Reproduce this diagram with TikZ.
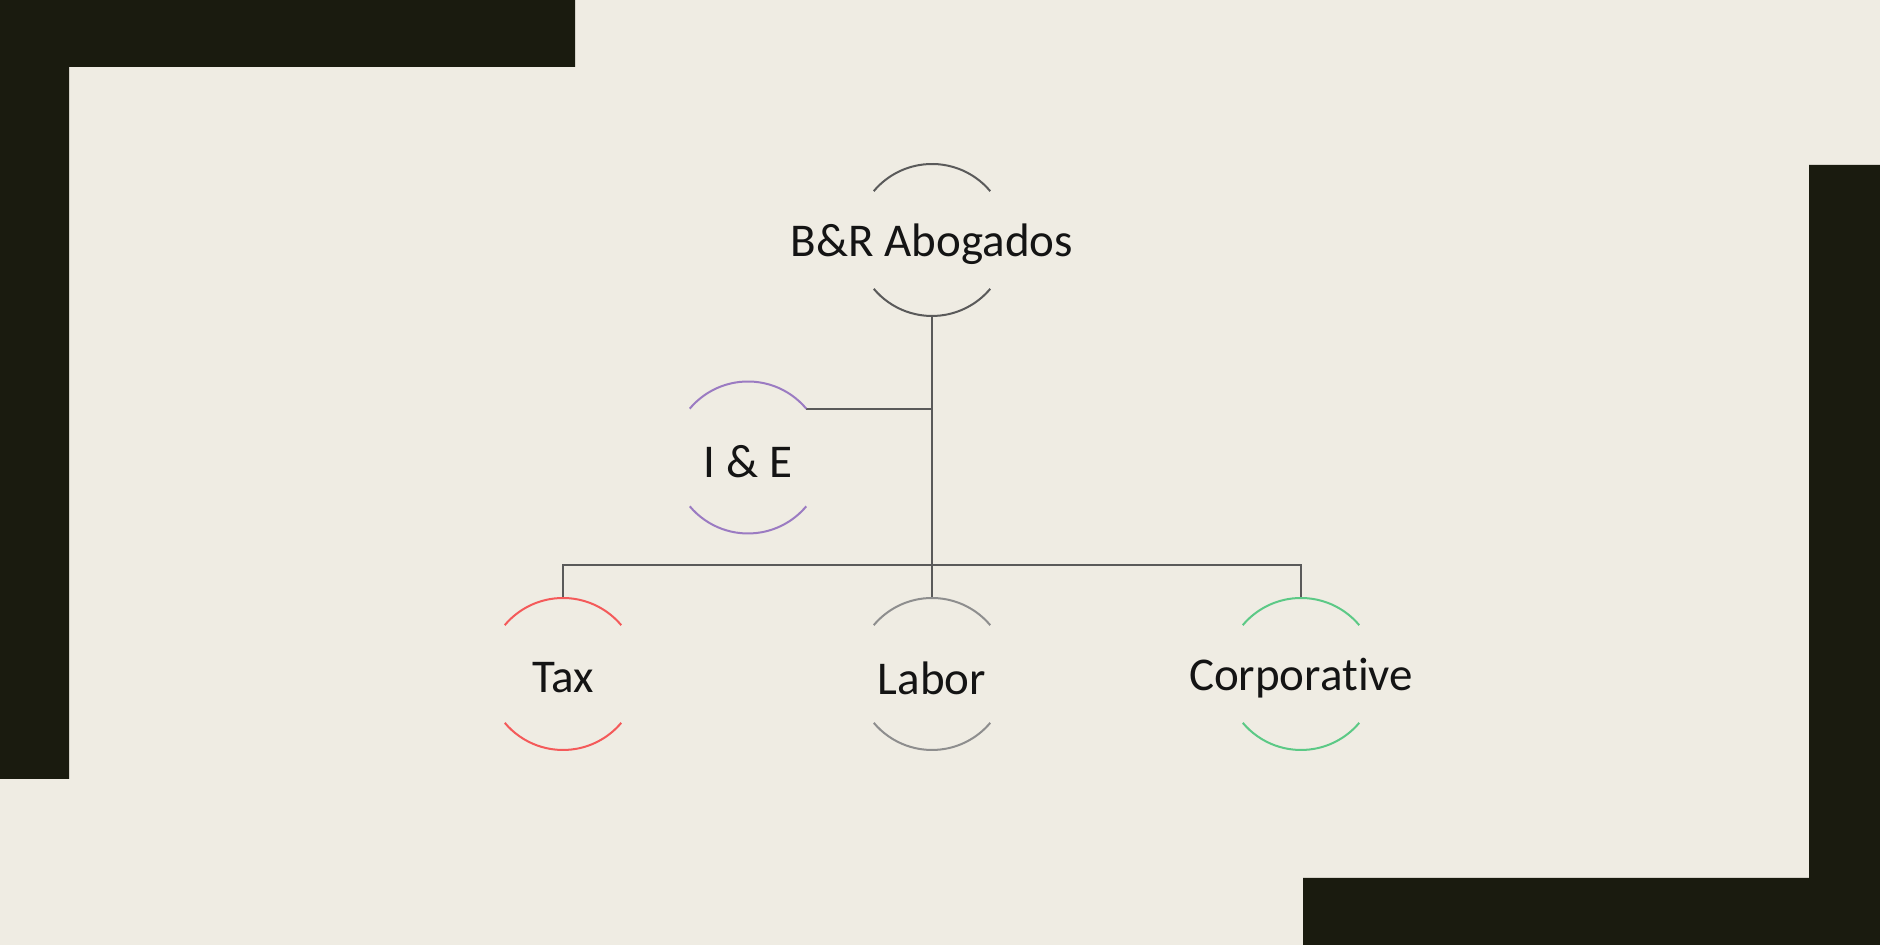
\documentclass[tikz,border=0pt]{standalone}
\usepackage{fontspec}
\setmainfont{Carlito}[Ligatures=CommonOff]
\definecolor{paper}{HTML}{EFECE3}
\definecolor{ink}{HTML}{1A1B0F}
\definecolor{linkgray}{HTML}{5A5A5A}
\definecolor{firmcol}{HTML}{5A5A5A}
\definecolor{iecol}{HTML}{9B7BC2}
\definecolor{taxcol}{HTML}{F45A5A}
\definecolor{laborcol}{HTML}{8E8E8E}
\definecolor{corpcol}{HTML}{5CC986}

\begin{document}
\begin{tikzpicture}[x=0.5pt,y=0.5pt,
  unit/.style={circle,minimum size=76pt,inner sep=0pt,outer sep=0pt,
    label={[font=\fontsize{23.5}{28}\selectfont,text=black!92,
      yshift=-2pt]center:#1}},
  link/.style={draw=linkgray,line width=0.9pt}]
% page and corner frames
\fill[paper] (0,0) rectangle (1880,945);
\fill[ink] (0,945) -- (575,945) -- (575,878) -- (69,878) -- (69,166) -- (0,166) -- cycle;
\fill[ink] (1880,780) -- (1880,0) -- (1303,0) -- (1303,67) -- (1809,67) -- (1809,780) -- cycle;

% units
\node[unit={B\&R Abogados}] (firm) at (932,705) {};
\node[unit={I \& E}] (ie) at (748,487.5) {};
\node[unit={Tax}] (tax) at (563,271) {};
\node[unit={Labor}] (labor) at (932,271) {};
\node[unit={Corporative}] (corp) at (1301,271) {};
\coordinate (bar) at (932,380);

% connectors
\draw[link] (firm.south) -- (labor.north);
\draw[link] (tax.north) |- (bar) -| (corp.north);
\draw[link] (ie.40) -- (ie.40 -| firm.south);

% open circles
\foreach \n/\c in {firm/firmcol,ie/iecol,tax/taxcol,labor/laborcol,corp/corpcol}{
  \draw[\c,line width=1pt] (\n.40) arc[start angle=40,end angle=140,radius=38pt];
  \draw[\c,line width=1pt] (\n.220) arc[start angle=220,end angle=320,radius=38pt];
}
\end{tikzpicture}
\end{document}
